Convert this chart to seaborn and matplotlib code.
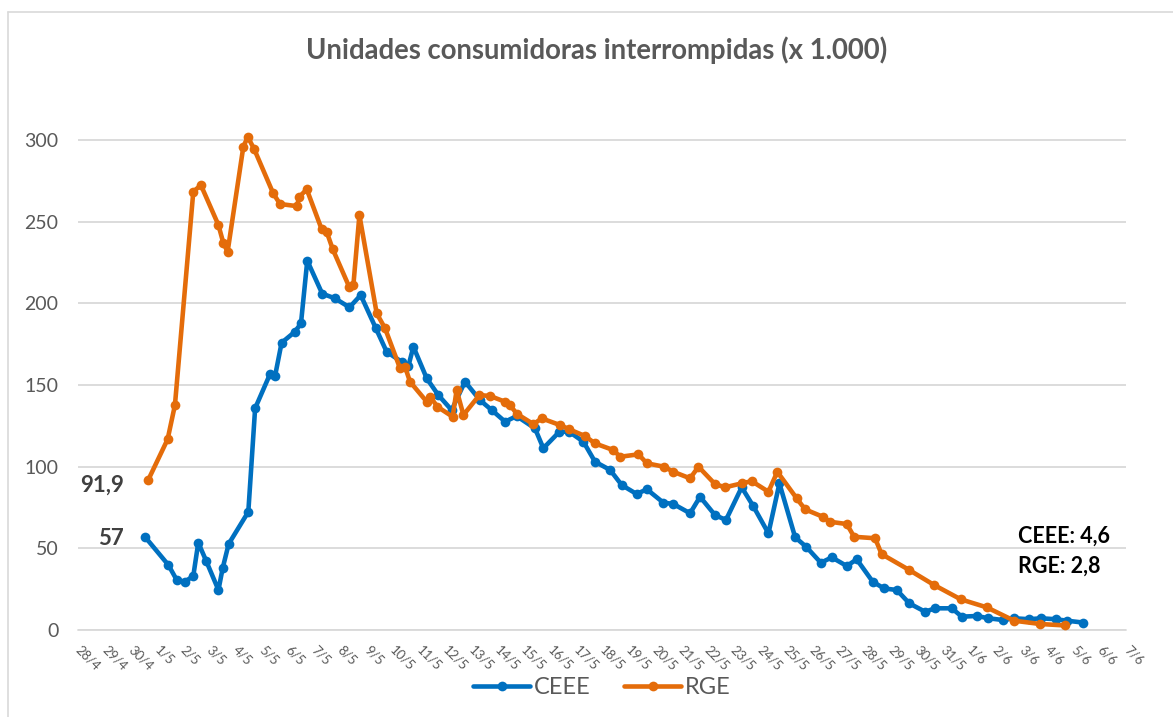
import pandas as pd
import seaborn as sns
import matplotlib.pyplot as plt
from matplotlib.lines import Line2D

# dias contados a partir de 28/4 (fração = hora do boletim)
inicio = pd.Timestamp('2024-04-28')
dias_eixo = list(range(0, 41))

ceee_dia = [2.56, 3.45, 3.77, 4.08, 4.40, 4.59, 4.89, 5.36, 5.52, 5.75,
            6.50, 6.76, 7.33, 7.52, 7.77, 8.28, 8.51, 8.75, 9.32, 9.81,
            10.36, 10.79, 11.37, 11.78, 12.35, 12.61, 12.80, 13.31, 13.75, 14.26,
            14.77, 15.34, 15.79, 16.30, 16.74, 17.44, 17.76, 18.37, 18.75, 19.29,
            19.73, 20.31, 20.75, 21.32, 21.71, 22.34, 22.72, 23.36, 23.74, 24.31,
            24.73, 25.33, 25.77, 26.35, 26.77, 27.37, 27.79, 28.35, 28.77, 29.34,
            29.72, 30.33, 30.76, 31.25, 31.73, 32.33, 32.71, 33.35, 33.73, 34.32,
            34.74, 35.32, 35.73, 36.31, 36.74, 37.33, 37.74, 38.35]
ceee_val = [57, 39.8, 30.6, 29.6, 33.1, 53.5, 42.4, 24.5, 37.8, 52.7,
            72.4, 135.8, 156.8, 155.5, 175.9, 182.7, 187.8, 226.2, 206, 203.1,
            197.6, 205.1, 184.7, 170.4, 164.3, 161.7, 173.5, 154.1, 143.9, 134.7,
            152.1, 140.8, 134.7, 127.6, 131, 123.5, 111.3, 121.4, 121.4, 115.3,
            103.1, 98, 88.8, 83.3, 86.2, 78, 77.2, 71.5, 81.6, 70.4,
            67.4, 87.4, 75.9, 59.2, 89.8, 56.8, 51, 41.2, 44.5, 39.2,
            43.3, 29.6, 25.5, 24.5, 16.3, 11.2, 13.3, 13.3, 8.2, 8.6,
            7.2, 6.1, 7.2, 6.6, 7.2, 6.6, 5.7, 4.6]

rge_dia = [2.68, 3.42, 3.70, 4.40, 4.69, 5.36, 5.55, 5.71, 6.31, 6.48,
           6.73, 7.45, 7.71, 8.35, 8.45, 8.73, 9.30, 9.49, 9.72, 10.36,
           10.51, 10.74, 11.40, 11.72, 12.29, 12.48, 12.67, 13.31, 13.44, 13.72,
           14.30, 14.45, 14.71, 15.32, 15.73, 16.30, 16.49, 16.74, 17.38, 17.70,
           18.40, 18.75, 19.35, 19.73, 20.43, 20.69, 21.39, 21.71, 22.37, 22.72,
           23.36, 23.68, 24.31, 24.69, 25.33, 25.71, 26.35, 26.69, 27.43, 27.75,
           28.42, 28.70, 29.34, 29.62, 30.42, 30.67, 31.73, 32.67, 33.69, 34.68,
           35.73, 36.72, 37.67]
rge_val = [91.9, 116.8, 137.8, 268.4, 272.5, 248, 236.8, 231.7, 296, 302,
           294.3, 267.4, 260.9, 259.6, 265.3, 269.9, 245.4, 243.9, 233.3, 209.8,
           211.3, 254.1, 193.9, 184.7, 160.3, 161.3, 152.1, 139.8, 142.9, 136.7,
           130.6, 147, 131.7, 143.9, 143.3, 139.8, 137.8, 132.5, 126.1, 129.6,
           125.5, 122.9, 118.8, 114.3, 110.2, 106.1, 107.6, 102.1, 100, 96.9,
           92.9, 100, 89.4, 87.4, 89.8, 91.2, 84.7, 96.9, 80.6, 73.9,
           69.4, 66.3, 64.9, 57.1, 56.2, 46.5, 36.7, 27.6, 18.8, 13.9,
           5.7, 3.7, 2.8]

cores = {'CEEE': '#0070C0', 'RGE': '#E46C0A'}
cinza = '#595959'


def fmt(v):
    return f'{v:g}'.replace('.', ',')


df = pd.concat([
    pd.DataFrame({'data': inicio + pd.to_timedelta(ceee_dia, unit='D'),
                  'valor': ceee_val, 'empresa': 'CEEE'}),
    pd.DataFrame({'data': inicio + pd.to_timedelta(rge_dia, unit='D'),
                  'valor': rge_val, 'empresa': 'RGE'}),
])

sns.set_theme(style='white')
plt.rcParams['font.family'] = ['Lato', 'DejaVu Sans']

fig = plt.figure(figsize=(11.73, 7.17), dpi=100)
ax = fig.add_axes([0.0665, 0.1213, 0.8935, 0.706])

sns.lineplot(data=df, x='data', y='valor', hue='empresa', palette=cores,
             marker='o', markersize=7, markeredgewidth=0, linewidth=3.3,
             legend=False, ax=ax)

ticks = inicio + pd.to_timedelta(dias_eixo, unit='D')
ax.set_xlim(ticks[0], ticks[-1])
ax.set_xticks(ticks)
ax.set_xticklabels([f'{t.day}/{t.month}' for t in ticks], rotation=-45,
                   ha='left', va='center', rotation_mode='anchor',
                   fontsize=9.5, color=cinza)
ax.tick_params(axis='x', length=0, pad=13)

ax.set_ylim(0, 310)
ax.set_yticks([0, 50, 100, 150, 200, 250, 300])
ax.tick_params(axis='y', length=0, labelsize=14, labelcolor=cinza, pad=14)
ax.yaxis.grid(True, color='#D9D9D9', linewidth=1.3)
ax.axhline(0, color='#D9D9D9', linewidth=1.3, clip_on=False, zorder=0)
ax.set_axisbelow(True)
ax.set(xlabel='', ylabel='')
for s in ax.spines.values():
    s.set_visible(False)

# rótulos dos valores iniciais e finais
ax.annotate(fmt(rge_val[0]), xy=(inicio + pd.Timedelta(days=rge_dia[0]), rge_val[0]),
            xytext=(-24, -5), textcoords='offset pixels', ha='right', va='center',
            fontsize=16, fontweight='bold', color='#404040')
ax.annotate(fmt(ceee_val[0]), xy=(inicio + pd.Timedelta(days=ceee_dia[0]), ceee_val[0]),
            xytext=(-21, -2), textcoords='offset pixels', ha='right', va='center',
            fontsize=16, fontweight='bold', color='#404040')
ax.annotate(f'CEEE: {fmt(ceee_val[-1])}',
            xy=(inicio + pd.Timedelta(days=ceee_dia[-1]), ceee_val[-1]),
            xytext=(-65, 86), textcoords='offset pixels', ha='left', va='center',
            fontsize=15.5, fontweight='bold', color='black')
ax.annotate(f'RGE: {fmt(rge_val[-1])}',
            xy=(inicio + pd.Timedelta(days=ceee_dia[-1]), ceee_val[-1]),
            xytext=(-65, 56), textcoords='offset pixels', ha='left', va='center',
            fontsize=15.5, fontweight='bold', color='black')

fig.text(0.509, 1 - 50 / 717, 'Unidades consumidoras interrompidas (x 1.000)',
         ha='center', va='center', fontsize=19.8, fontweight='bold', color=cinza)

handles = [Line2D([], [], color=cores[k], marker='o', markersize=7,
                  markeredgewidth=0, linewidth=3.3) for k in cores]
fig.legend(handles, list(cores), loc='center', bbox_to_anchor=(0.513, 1 - 688 / 717),
           ncol=2, frameon=False, fontsize=17, labelcolor=cinza,
           handlelength=2.4, handletextpad=0.15, columnspacing=1.45)

# moldura da área do gráfico
borda = '#D9D9D9'
fig.add_artist(Line2D([8 / 1173, 8 / 1173], [0, 1 - 12 / 717], color=borda, lw=1.2))
fig.add_artist(Line2D([8 / 1173, 1], [1 - 12 / 717, 1 - 12 / 717], color=borda, lw=1.2))

fig.savefig('out.png', dpi=100)
